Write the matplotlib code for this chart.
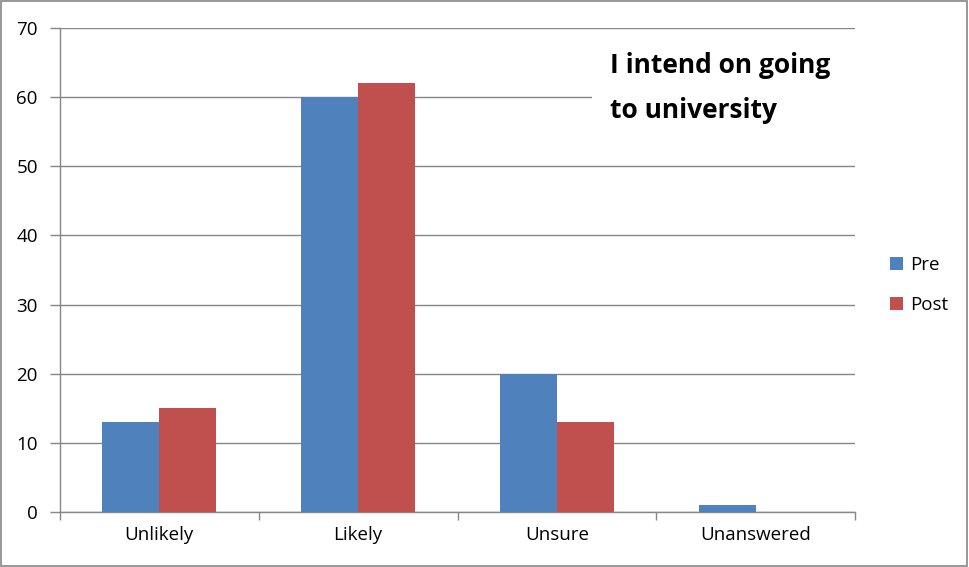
import matplotlib
matplotlib.use("Agg")
import matplotlib.pyplot as plt
import numpy as np
from matplotlib.patches import Rectangle

categories = ["Unlikely", "Likely", "Unsure", "Unanswered"]
pre = [13, 60, 20, 1]
post = [15, 62, 13, 0]
series_names = ["Pre", "Post"]
yticks = [0, 10, 20, 30, 40, 50, 60, 70]
title = "I intend on going\nto university"

plt.rcParams['font.family'] = ['Open Sans', 'DejaVu Sans']

fig = plt.figure(figsize=(9.69, 5.67), dpi=100)
ax = fig.add_axes([60/969, 1-512/567, 795/969, 484/567])

x = np.arange(len(categories))
w = 0.287
c_pre = "#4F81BD"
c_post = "#C0504D"
ax.bar(x - w/2, pre, w, color=c_pre, label=series_names[0], zorder=3)
ax.bar(x + w/2, post, w, color=c_post, label=series_names[1], zorder=3)

ax.set_xlim(-0.5, len(categories) - 0.5)
ax.set_ylim(0, 70)
ax.set_yticks(yticks)
ax.set_yticklabels([str(v) for v in yticks], fontsize=13.5)
ax.yaxis.grid(True, color="#868686", linewidth=1, zorder=0)
ax.set_axisbelow(True)

# x ticks at category boundaries, labels at centers
ax.set_xticks(np.arange(len(categories) + 1) - 0.5)
ax.set_xticklabels([])
ax.set_xticks(x, minor=True)
ax.set_xticklabels(categories, minor=True, fontsize=13.5)
ax.tick_params(axis='x', which='minor', length=0, pad=10)
ax.tick_params(axis='x', which='major', length=6, color="#868686", width=1)
ax.tick_params(axis='y', length=7, color="#868686", width=1, pad=9)

for s in ["top", "right"]:
    ax.spines[s].set_visible(False)
for s in ["left", "bottom"]:
    ax.spines[s].set_color("#868686")
    ax.spines[s].set_linewidth(1)

# white title box (covers gridline behind the title)
ax.add_patch(Rectangle((0.669, 0.80), 0.34, 0.165, transform=ax.transAxes,
                       facecolor='white', edgecolor='none', zorder=4, clip_on=False))
ax.text(0.692, 0.876, title, transform=ax.transAxes, fontsize=19, fontweight='bold',
        ha='left', va='center', linespacing=1.85, zorder=5)

leg = fig.legend(loc='center left', bbox_to_anchor=(873/969, 1-285/567), frameon=False,
                 fontsize=13.5, handlelength=0.7, handleheight=0.7, handletextpad=0.4,
                 labelspacing=1.2)

fig.patches.append(Rectangle((0.001, 0.001), 0.997, 0.997, transform=fig.transFigure,
                             fill=False, edgecolor="#868686", linewidth=1.2))

fig.savefig("out.png", dpi=100)
